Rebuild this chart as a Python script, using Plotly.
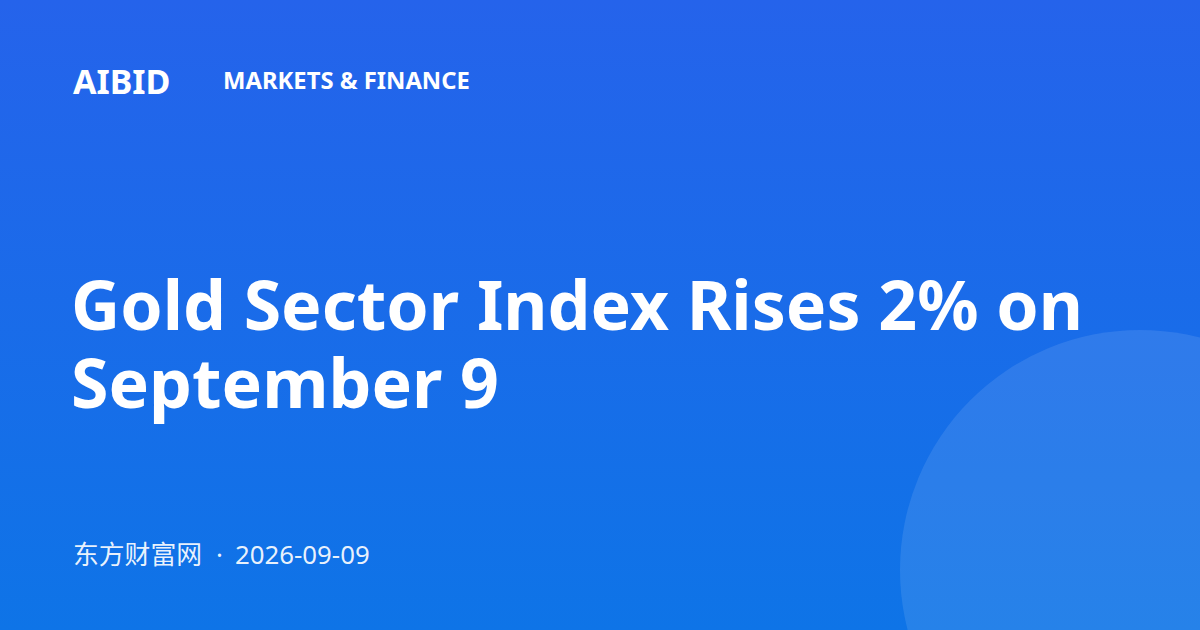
import plotly.graph_objects as go

W, H = 1200, 630

brand = "AIBID"
category = "MARKETS & FINANCE"
title_lines = ["Gold Sector Index Rises 2% on", "September 9"]
source = "东方财富网"
separator = "·"
date = "2026-09-09"

top_color = "#2563EB"
bottom_color = "#0E74E7"

FONT = "Noto Sans, Noto Sans CJK SC, sans-serif"

fig = go.Figure()

# background gradient (y axis reversed, so scale runs bottom -> top)
fig.add_trace(go.Scatter(
    x=[0, W, W, 0, 0], y=[0, 0, H, H, 0],
    mode="lines", line=dict(width=0),
    fill="toself",
    fillgradient=dict(type="vertical",
                      colorscale=[[0, bottom_color], [1, top_color]]),
    hoverinfo="skip", showlegend=False,
))

# decorative circle
fig.add_shape(type="circle", xref="x", yref="y",
              x0=900, x1=1380, y0=330, y1=810,
              fillcolor="rgba(255,255,255,0.1)", line=dict(width=0), layer="above")

def txt(x, y, s, size, weight=400, color="#FFFFFF", anchor="left"):
    fig.add_annotation(x=x, y=y, xref="x", yref="y", text=s, showarrow=False,
                       xanchor=anchor, yanchor="middle", borderpad=0,
                       font=dict(family=FONT, size=size, color=color, weight=weight))

txt(71.5, 80.5, brand, 34, 700)
txt(221.5, 79.5, category, 23.8, 700)
txt(69.5, 303, title_lines[0], 68, 700)
txt(69.5, 381, title_lines[1], 68, 700)
sub = "rgba(255,255,255,0.92)"
txt(72, 553.5, source, 25.8, 400, sub)
txt(219.5, 553.5, separator, 25.8, 400, sub, "center")
txt(233.5, 553.5, date, 25.8, 400, sub)

fig.update_layout(
    width=W, height=H,
    margin=dict(l=0, r=0, t=0, b=0),
    paper_bgcolor=bottom_color, plot_bgcolor=bottom_color,
    xaxis=dict(range=[0, W], visible=False, fixedrange=True),
    yaxis=dict(range=[H, 0], visible=False, fixedrange=True),
    showlegend=False,
)

fig.write_html("out.html", config={"displayModeBar": False},
               post_script="document.body.style.margin='0';document.body.style.overflow='hidden';")
